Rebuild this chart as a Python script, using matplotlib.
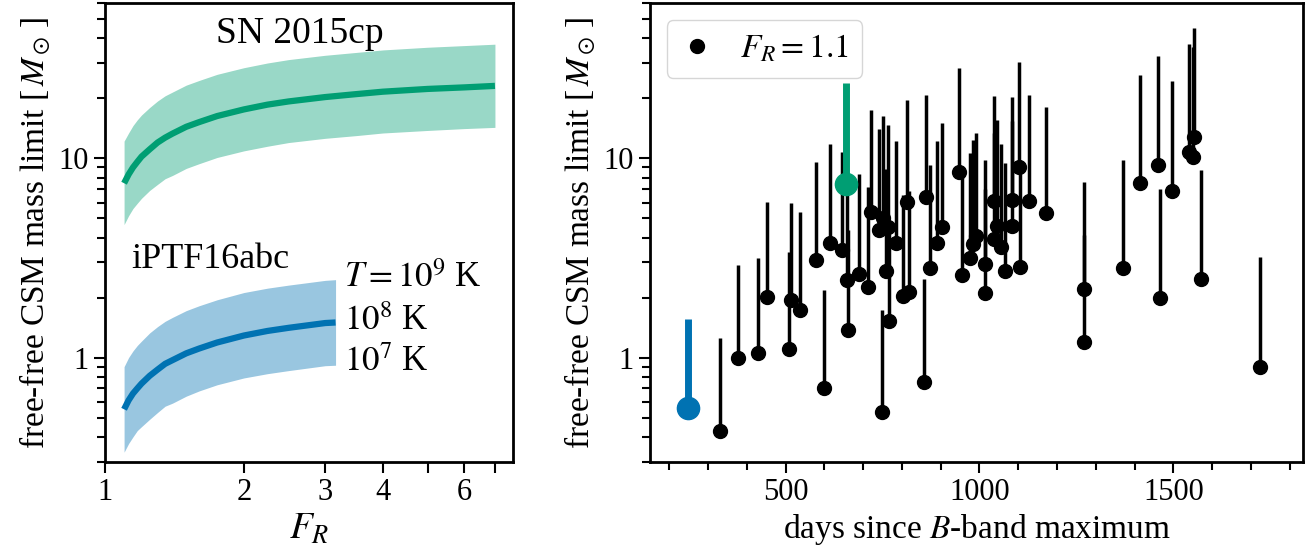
import matplotlib
matplotlib.use('Agg')
import matplotlib.pyplot as plt
from matplotlib.ticker import FixedLocator, FixedFormatter, NullFormatter, NullLocator, FuncFormatter, MultipleLocator

plt.rcParams['font.family'] = 'serif'
plt.rcParams['font.serif'] = ['Liberation Serif', 'DejaVu Serif']
plt.rcParams['mathtext.fontset'] = 'stix'

green = '#009E73'
blue = '#0072B2'

# left panel: mass limit vs F_R (line = 10^8 K, band = 10^7 .. 10^9 K)
fr_15cp = [1.1, 1.125, 1.15, 1.175, 1.2, 1.25, 1.3, 1.35, 1.4, 1.5, 1.6, 1.75, 2.0, 2.25,
           2.5, 3.0, 3.5, 4.0, 5.0, 6.0, 7.0]
mass_15cp = [7.5, 8.3, 9.0, 9.6, 10.2, 11.1, 12.0, 12.7, 13.3, 14.4, 15.2, 16.3, 17.6, 18.6,
             19.3, 20.3, 21.0, 21.6, 22.3, 22.7, 23.1]
mass_15cp_hi = [12.2, 13.4, 14.6, 15.6, 16.5, 18.0, 19.4, 20.6, 21.5, 23.3, 24.6, 26.4, 28.5,
                30.1, 31.3, 32.9, 34.0, 35.0, 36.1, 36.8, 37.4]
mass_15cp_lo = [4.65, 5.15, 5.6, 5.95, 6.3, 6.9, 7.4, 7.9, 8.2, 8.9, 9.4, 10.1, 10.9, 11.5,
                12.0, 12.6, 13.0, 13.4, 13.8, 14.1, 14.3]

fr_16abc = [1.1, 1.125, 1.15, 1.175, 1.2, 1.25, 1.3, 1.35, 1.4, 1.5, 1.6, 1.75, 2.0, 2.25,
            2.5, 3.0, 3.16]
mass_16abc = [0.55, 0.61, 0.66, 0.70, 0.74, 0.81, 0.87, 0.93, 0.97, 1.05, 1.11, 1.19, 1.29,
              1.36, 1.41, 1.49, 1.50]
mass_16abc_hi = [0.90, 1.00, 1.08, 1.15, 1.21, 1.33, 1.43, 1.52, 1.59, 1.72, 1.82, 1.95, 2.12,
                 2.23, 2.31, 2.44, 2.46]
mass_16abc_lo = [0.335, 0.37, 0.40, 0.43, 0.45, 0.49, 0.53, 0.57, 0.59, 0.64, 0.68, 0.73, 0.79,
                 0.83, 0.86, 0.91, 0.915]

# right panel: F_R = 1.1 limits, vertical line up to the upper value
days = [330, 377, 429, 451, 508, 513, 537, 577, 598, 614, 646, 659, 662, 690, 713, 719,
        740, 749, 752, 759, 764, 766, 784, 803, 814, 818, 856, 863, 872, 891, 904, 948,
        955, 975, 984, 990, 1014, 1015, 1037, 1044, 1037, 1056, 1067, 1084, 1084, 1101,
        1104, 1127, 1172, 1269, 1269, 1370, 1415, 1461, 1466, 1497, 1541, 1550, 1554,
        1571, 1724]
mass = [0.43, 0.99, 1.06, 2.02, 1.11, 1.95, 1.73, 3.09, 0.70, 3.74, 3.47, 2.46, 1.37, 2.62,
        2.27, 5.39, 4.37, 0.53, 5.00, 2.73, 4.53, 1.52, 3.76, 2.03, 6.05, 2.14, 0.75, 6.41,
        2.81, 3.74, 4.53, 8.56, 2.60, 3.17, 3.70, 4.07, 2.94, 2.10, 6.11, 4.58, 3.92, 3.59,
        2.72, 6.18, 4.58, 9.00, 2.84, 6.11, 5.30, 2.21, 1.20, 2.82, 7.48, 9.29, 2.00, 6.87,
        10.7, 10.2, 12.8, 2.47, 0.90]
mass_top = [1.25, 2.92, 3.15, 6.05, 3.40, 5.94, 5.36, 9.55, 2.18, 11.8, 10.8, 7.74, 4.37, 8.35,
            7.22, 17.5, 14.1, 1.73, 16.3, 8.86, 14.7, 4.85, 12.2, 6.53, 19.6, 6.87, 2.47, 20.9,
            9.21, 12.2, 15.0, 28.4, 8.52, 10.6, 12.4, 13.4, 9.81, 7.05, 20.5, 15.5, 13.4, 11.8,
            9.46, 20.3, 15.4, 30.3, 9.81, 20.9, 18.1, 7.62, 4.12, 9.81, 26.1, 32.6, 7.05, 24.4,
            37.7, 36.1, 45.1, 8.69, 3.21]

days_16abc, pt_16abc, top_16abc = 247, 0.56, 1.57
days_15cp, pt_15cp, top_15cp = 656, 7.4, 24.0

ylim = (0.3, 60)

fig = plt.figure(figsize=(13.09, 5.5), dpi=100)
ax1 = fig.add_axes([0.0802, 0.1605, 0.3117, 0.8335])
ax2 = fig.add_axes([0.4966, 0.1605, 0.4989, 0.8335])

# left
ax1.fill_between(fr_15cp, mass_15cp_lo, mass_15cp_hi, color=green, alpha=0.4, lw=0)
ax1.plot(fr_15cp, mass_15cp, color=green, lw=4.5, solid_capstyle='butt')
ax1.fill_between(fr_16abc, mass_16abc_lo, mass_16abc_hi, color=blue, alpha=0.4, lw=0)
ax1.plot(fr_16abc, mass_16abc, color=blue, lw=4.5, solid_capstyle='butt')
ax1.set_xscale('log')
ax1.set_yscale('log')
ax1.set_xlim(1, 7.66)
ax1.set_ylim(*ylim)
ax1.xaxis.set_major_locator(FixedLocator([1, 2, 3, 4, 5, 6, 7]))
ax1.xaxis.set_major_formatter(FixedFormatter(['1', '2', '3', '4', '', '6', '']))
ax1.xaxis.set_minor_locator(NullLocator())
ax1.set_xlabel(r'$F_R$', fontsize=27)

ax1.text(2.64, 42, 'SN 2015cp', fontsize=27, ha='center', va='center')
ax1.text(1.14, 3.1, 'iPTF16abc', fontsize=26, ha='left', va='center')
ax1.text(3.3, 2.5, r'$T = 10^9$ K', fontsize=25, ha='left', va='center')
ax1.text(3.3, 1.52, r'$10^8$ K', fontsize=25, ha='left', va='center')
ax1.text(3.3, 0.94, r'$10^7$ K', fontsize=25, ha='left', va='center')

# right
ax2.vlines(days, mass, mass_top, color='k', lw=2.5)
ax2.plot(days, mass, 'o', color='k', ms=10, label=r'$F_R = 1.1$')
ax2.vlines(days_16abc, pt_16abc, top_16abc, color=blue, lw=5, zorder=3)
ax2.plot(days_16abc, pt_16abc, 'o', color=blue, ms=16, zorder=3)
ax2.vlines(days_15cp, pt_15cp, top_15cp, color=green, lw=5, zorder=3)
ax2.plot(days_15cp, pt_15cp, 'o', color=green, ms=16, zorder=3)
ax2.set_yscale('log')
ax2.set_xlim(150, 1835)
ax2.set_ylim(*ylim)
ax2.xaxis.set_major_locator(MultipleLocator(500))
ax2.xaxis.set_minor_locator(MultipleLocator(100))
ax2.set_xlabel(r'days since $B$-band maximum', fontsize=24)
ax2.legend(loc='upper left', fontsize=24, handlelength=1.0, borderaxespad=0.5)

for ax in (ax1, ax2):
    ax.set_ylabel(r'free-free CSM mass limit [$\,M_\odot\,$]', fontsize=24)
    ax.yaxis.set_major_formatter(FuncFormatter(lambda v, p: '%g' % v))
    ax.yaxis.set_minor_formatter(NullFormatter())
    ax.tick_params(which='both', direction='out', width=1.5, labelsize=22, top=False, right=False)
    ax.tick_params(which='major', length=8)
    ax.tick_params(which='minor', length=6)
    for s in ax.spines.values():
        s.set_linewidth(2)

fig.savefig('out.png', dpi=100)
